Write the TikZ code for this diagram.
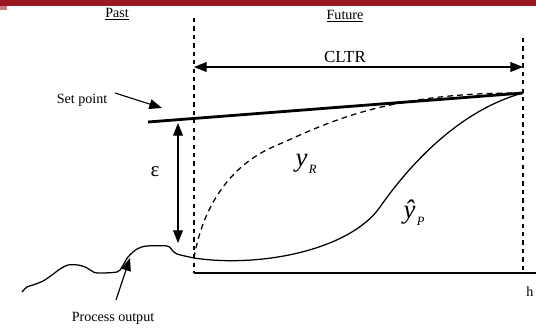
\documentclass[tikz,border=0pt]{standalone}
\usepackage{fontspec}
\setmainfont{Liberation Serif}
\usepackage{xcolor}
\usetikzlibrary{positioning,arrows.meta}
\definecolor{band}{HTML}{9A1822}
\definecolor{bandsoft}{HTML}{C97A80}
\newcommand{\lab}[2]{\textit{#1}\hspace{1pt}\raisebox{-0.55ex}{\fontsize{9}{9}\selectfont\textit{#2}}}
\tikzset{
  txt/.style={font=\fontsize{10}{12}\selectfont,inner sep=1pt},
  arr/.style={-{Triangle[length=9pt,width=7pt]},line width=0.8pt},
  darr/.style={{Triangle[length=9pt,width=7pt]}-{Triangle[length=9pt,width=7pt]},line width=0.8pt},
  bound/.style={line width=1.4pt,dash pattern=on 3pt off 3pt},
  trace/.style={line width=0.9pt},
}
\begin{document}
\begin{tikzpicture}[x=0.025cm,y=-0.025cm]
\useasboundingbox (0,0) rectangle (536,329);
\fill[bandsoft] (0,0) rectangle (7,10);
\fill[band] (0,0) rectangle (536,6);
% labels
\node[txt] (past) at (117,14) {\underline{Past}};
\node[txt] (fut) at (345,16) {\underline{Future}};
\node[txt,font=\fontsize{12}{14}\selectfont] (cltr) at (345,57) {CLTR};
\node[txt] (setp) at (82,100) {Set point};
\node[txt] (proc) at (113,318) {Process output};
\node[txt] (hor) at (530,292) {h};
\node[txt,font=\fontsize{15}{15}\selectfont] (eps) at (155,172) {ε};
\node[txt,font=\fontsize{19}{19}\selectfont] (yr) at (306,164) {\lab{y}{R}};
\node[txt,font=\fontsize{19}{19}\selectfont] (yp) at (414,213) {\lab{ŷ}{P}};
% fixed points
\coordinate (now) at (194,258);
\coordinate (end) at (523,93);
\coordinate (spl) at (148,122);
\draw[bound] (194,18) coordinate (lt) -- (194,273) coordinate (lb);
\draw[bound] (523,38) coordinate (rt) -- (523,273) coordinate (rb);
\draw[line width=0.9pt] (lb) -- (536,273) coordinate (axe);
\draw[line width=2pt] (spl) -- (end);
\draw[darr] (194,67) coordinate (cl) -- (523,67) coordinate (cr);
\draw[darr] (178,123) coordinate (et) -- (178,243) coordinate (eb);
\draw[arr] (115,93) coordinate (sa) -- (162,108) coordinate (sb);
\draw[arr] (116,300) coordinate (pa) -- (130,258) coordinate (pb);
% process output
\draw[trace] plot[smooth,tension=0.5] coordinates {(22,292) (27,287) (33,285) (43,281) (52,275) (60,269) (68,265) (78,265) (85,267) (92,271) (97,273) (117,272) (122,267) (128,257) (137,249) (147,246) (167,246) (172,250) (177,254) (194,258)};
% predicted output
\draw[trace] (now) .. controls (260,268) and (350,250) .. (380,207)
  .. controls (410,164) and (460,110) .. (end);
% reference trajectory
\draw[trace,dash pattern=on 4pt off 3pt] (now) .. controls (204,200) and (235,163) .. (275,146)
  .. controls (320,127) and (380,92) .. (end);
\end{tikzpicture}
\end{document}
